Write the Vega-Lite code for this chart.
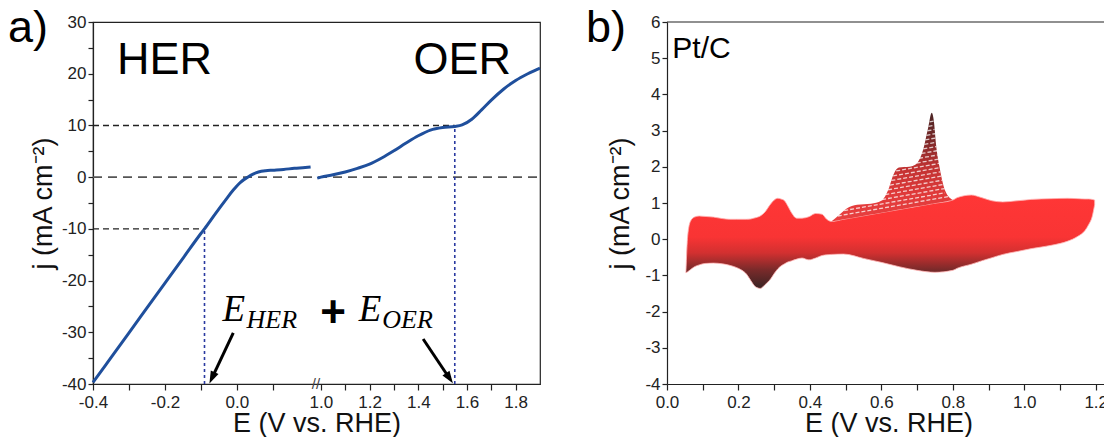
{
  "$schema": "https://vega.github.io/schema/vega-lite/v6.json",
  "background": "white",
  "padding": {"left": 7, "top": 5, "right": 0, "bottom": 0},
  "spacing": 39,
  "config": {
    "font": "Liberation Sans",
    "axis": {"grid": false, "domainColor": "#222", "domainWidth": 1.2, "tickColor": "#222", "tickWidth": 1.2, "tickSize": 5, "labelFont": "Liberation Sans", "labelFontSize": 17, "labelColor": "#222", "labelPadding": 2, "labelFlush": false, "labelOverlap": false, "titleFont": "Liberation Sans", "titleFontSize": 27, "titleFontWeight": "normal", "titleColor": "#111"},
    "axisY": {"titlePadding": 4},
    "axisX": {"titlePadding": 0, "tickSize": 6, "labelPadding": 4}
  },
  "hconcat": [
    {
      "width": 447,
      "height": 362,
      "view": {"stroke": "#222", "strokeWidth": 1.2},
      "title": {"text": "a)", "anchor": "start", "frame": "group", "fontSize": 45, "font": "Liberation Sans", "fontWeight": "normal", "color": "#000", "baseline": "top", "offset": -38, "dx": -85},
      "encoding": {
        "x": {"field": "x", "type": "quantitative",
          "scale": {"domain": [-0.4, 0.22, 0.98, 1.9], "range": [0, 223, 223, 447], "nice": false, "zero": false},
          "axis": {"title": "E (V vs. RHE)", "values": [-0.4, -0.3, -0.2, -0.1, 0, 0.1, 1, 1.1, 1.2, 1.3, 1.4, 1.5, 1.6, 1.7, 1.8], "labelExpr": "round(datum.value*10)%2==0 ? replace(format(datum.value,'.1f'),'−','-') : ''"}},
        "y": {"field": "y", "type": "quantitative",
          "scale": {"domain": [-40, 30], "nice": false, "zero": false},
          "axis": {"title": "j (mA cm⁻²)", "values": [-40, -35, -30, -25, -20, -15, -10, -5, 0, 5, 10, 15, 20, 25, 30], "labelExpr": "datum.value%10==0 ? replace(format(datum.value,'d'),'−','-') : ''"}}
      },
      "layer": [
        {
          "data": {"values": [{"x": -0.4, "y": 0}, {"x": 1.9, "y": 0}]},
          "mark": {"type": "line", "color": "#555", "strokeDash": [9, 6], "strokeWidth": 1.6},
          "encoding": {}
        },
        {
          "data": {"values": [{"x": -0.4, "y": 10, "id": "a"}, {"x": 1.55, "y": 10, "id": "a"}, {"x": -0.4, "y": -10, "id": "b"}, {"x": -0.09, "y": -10, "id": "b"}]},
          "mark": {"type": "line", "color": "#222", "strokeDash": [6, 4], "strokeWidth": 1.4},
          "encoding": {"detail": {"field": "id"}}
        },
        {
          "data": {"values": [{"x": -0.09, "y": -40, "id": "a"}, {"x": -0.09, "y": -10, "id": "a"}, {"x": 1.55, "y": -40, "id": "b"}, {"x": 1.55, "y": 10, "id": "b"}]},
          "mark": {"type": "line", "color": "#2a3aa0", "strokeDash": [3, 3], "strokeWidth": 1.6},
          "encoding": {"detail": {"field": "id"}}
        },
        {
          "data": {"values": [
            {"x": -0.4, "y": -39.7, "s": "her"}, {"x": -0.35, "y": -34.9, "s": "her"}, {"x": -0.3, "y": -30.1, "s": "her"}, {"x": -0.25, "y": -25.3, "s": "her"}, {"x": -0.2, "y": -20.5, "s": "her"}, {"x": -0.15, "y": -15.7, "s": "her"}, {"x": -0.1, "y": -10.9, "s": "her"}, {"x": -0.09, "y": -10.0, "s": "her"}, {"x": -0.06, "y": -7.1, "s": "her"}, {"x": -0.03, "y": -4.3, "s": "her"}, {"x": -0.01, "y": -2.5, "s": "her"}, {"x": 0.01, "y": -1.0, "s": "her"}, {"x": 0.03, "y": 0.0, "s": "her"}, {"x": 0.045, "y": 0.6, "s": "her"}, {"x": 0.06, "y": 1.0, "s": "her"}, {"x": 0.08, "y": 1.25, "s": "her"}, {"x": 0.1, "y": 1.35, "s": "her"}, {"x": 0.13, "y": 1.5, "s": "her"}, {"x": 0.16, "y": 1.7, "s": "her"}, {"x": 0.19, "y": 1.85, "s": "her"}, {"x": 0.205, "y": 1.95, "s": "her"},
            {"x": 0.985, "y": -0.2, "s": "oer"}, {"x": 1.0, "y": 0.0, "s": "oer"}, {"x": 1.05, "y": 0.45, "s": "oer"}, {"x": 1.1, "y": 1.0, "s": "oer"}, {"x": 1.15, "y": 1.7, "s": "oer"}, {"x": 1.2, "y": 2.5, "s": "oer"}, {"x": 1.25, "y": 3.7, "s": "oer"}, {"x": 1.3, "y": 5.1, "s": "oer"}, {"x": 1.35, "y": 6.6, "s": "oer"}, {"x": 1.4, "y": 8.0, "s": "oer"}, {"x": 1.45, "y": 9.1, "s": "oer"}, {"x": 1.5, "y": 9.6, "s": "oer"}, {"x": 1.55, "y": 9.8, "s": "oer"}, {"x": 1.58, "y": 10.1, "s": "oer"}, {"x": 1.62, "y": 11.2, "s": "oer"}, {"x": 1.66, "y": 13.0, "s": "oer"}, {"x": 1.7, "y": 14.9, "s": "oer"}, {"x": 1.75, "y": 17.0, "s": "oer"}, {"x": 1.8, "y": 18.7, "s": "oer"}, {"x": 1.85, "y": 20.0, "s": "oer"}, {"x": 1.9, "y": 21.1, "s": "oer"}
          ]},
          "mark": {"type": "line", "color": "#1f4f9c", "strokeWidth": 3, "interpolate": "monotone"},
          "encoding": {"detail": {"field": "s"}}
        },
        {
          "data": {"values": [{"x": -0.01, "y": -30.1, "id": "a"}, {"x": -0.068, "y": -38.65, "id": "a"}, {"x": 1.42, "y": -31.3, "id": "b"}, {"x": 1.526, "y": -38.74, "id": "b"}]},
          "mark": {"type": "line", "color": "#000", "strokeWidth": 3},
          "encoding": {"detail": {"field": "id"}}
        },
        {
          "data": {"values": [{"x": -0.068, "y": -38.65}]},
          "mark": {"type": "point", "shape": "M0,-1L0.6,0.75L-0.6,0.75Z", "filled": true, "color": "#000", "opacity": 1, "size": 200, "angle": 205}
        },
        {
          "data": {"values": [{"x": 1.526, "y": -38.74}]},
          "mark": {"type": "point", "shape": "M0,-1L0.6,0.75L-0.6,0.75Z", "filled": true, "color": "#000", "opacity": 1, "size": 200, "angle": 146}
        },
        {
          "data": {"values": [{"x": -0.333, "y": 20, "t": "HER"}, {"x": 1.38, "y": 20, "t": "OER"}]},
          "mark": {"type": "text", "font": "Liberation Sans", "fontSize": 45, "align": "left", "baseline": "alphabetic", "color": "#000"},
          "encoding": {"text": {"field": "t"}}
        },
        {
          "data": {"values": [{"x": -0.04, "y": -27.8, "t": "E"}, {"x": 1.156, "y": -27.8, "t": "E"}]},
          "mark": {"type": "text", "font": "Liberation Serif", "fontStyle": "italic", "fontSize": 37, "align": "left", "baseline": "alphabetic", "color": "#000"},
          "encoding": {"text": {"field": "t"}}
        },
        {
          "data": {"values": [{"x": 0.027, "y": -29.2, "t": "HER"}, {"x": 1.252, "y": -29.2, "t": "OER"}]},
          "mark": {"type": "text", "font": "Liberation Serif", "fontStyle": "italic", "fontSize": 26, "align": "left", "baseline": "alphabetic", "color": "#000"},
          "encoding": {"text": {"field": "t"}}
        },
        {
          "data": {"values": [{"x": 1.05, "y": -26.4, "t": "+"}]},
          "mark": {"type": "text", "font": "Liberation Sans", "fontWeight": "bold", "fontSize": 44, "align": "center", "baseline": "middle", "color": "#000"},
          "encoding": {"text": {"field": "t"}}
        },
        {
          "data": {"values": [{"x": 0.98, "y": -40, "t": "//"}]},
          "mark": {"type": "text", "font": "Liberation Sans", "fontSize": 15, "align": "center", "baseline": "middle", "color": "#444"},
          "encoding": {"text": {"field": "t"}}
        }
      ]
    },
    {
      "width": 443,
      "height": 362,
      "view": {"stroke": null},
      "title": {"text": "b)", "anchor": "start", "frame": "group", "fontSize": 45, "font": "Liberation Sans", "fontWeight": "normal", "color": "#000", "baseline": "top", "offset": -38, "dx": -81},
      "encoding": {
        "x": {"field": "x", "type": "quantitative",
          "scale": {"domain": [0, 1.24], "nice": false, "zero": false},
          "axis": {"title": "E (V vs. RHE)", "values": [0, 0.1, 0.2, 0.3, 0.4, 0.5, 0.6, 0.7, 0.8, 0.9, 1.0, 1.1, 1.2], "labelExpr": "round(datum.value*10)%2==0 ? replace(format(datum.value,'.1f'),'−','-') : ''"}},
        "y": {"field": "y", "type": "quantitative",
          "scale": {"domain": [-4, 6], "nice": false, "zero": false},
          "axis": {"title": "j (mA cm⁻²)", "titlePadding": 10, "values": [-4, -3, -2, -1, 0, 1, 2, 3, 4, 5, 6], "labelExpr": "replace(format(datum.value,'d'),'−','-')"}}
      },
      "layer": [
        {
          "data": {"values": [
            {"x": 0.053, "y": -0.90, "y2": -0.93}, {"x": 0.058, "y": 0.10, "y2": -0.90}, {"x": 0.066, "y": 0.50, "y2": -0.84}, {"x": 0.077, "y": 0.61, "y2": -0.76}, {"x": 0.09, "y": 0.64, "y2": -0.71}, {"x": 0.106, "y": 0.63, "y2": -0.67}, {"x": 0.13, "y": 0.61, "y2": -0.66}, {"x": 0.155, "y": 0.57, "y2": -0.68}, {"x": 0.175, "y": 0.55, "y2": -0.72}, {"x": 0.194, "y": 0.55, "y2": -0.78}, {"x": 0.21, "y": 0.55, "y2": -0.86}, {"x": 0.223, "y": 0.55, "y2": -0.97}, {"x": 0.235, "y": 0.56, "y2": -1.15}, {"x": 0.247, "y": 0.59, "y2": -1.31}, {"x": 0.261, "y": 0.64, "y2": -1.36}, {"x": 0.275, "y": 0.76, "y2": -1.25}, {"x": 0.29, "y": 0.97, "y2": -1.10}, {"x": 0.30, "y": 1.08, "y2": -0.95}, {"x": 0.31, "y": 1.13, "y2": -0.82}, {"x": 0.319, "y": 1.11, "y2": -0.74}, {"x": 0.329, "y": 1.06, "y2": -0.68}, {"x": 0.338, "y": 0.92, "y2": -0.63}, {"x": 0.348, "y": 0.74, "y2": -0.60}, {"x": 0.363, "y": 0.58, "y2": -0.55}, {"x": 0.378, "y": 0.58, "y2": -0.52}, {"x": 0.397, "y": 0.62, "y2": -0.57}, {"x": 0.416, "y": 0.71, "y2": -0.52}, {"x": 0.434, "y": 0.69, "y2": -0.45}, {"x": 0.447, "y": 0.55, "y2": -0.43}, {"x": 0.46, "y": 0.49, "y2": -0.42}, {"x": 0.494, "y": 0.549, "y2": -0.41}, {"x": 0.55, "y": 0.646, "y2": -0.53}, {"x": 0.60, "y": 0.733, "y2": -0.64}, {"x": 0.65, "y": 0.82, "y2": -0.76}, {"x": 0.70, "y": 0.906, "y2": -0.86}, {"x": 0.75, "y": 0.993, "y2": -0.915}, {"x": 0.80, "y": 1.08, "y2": -0.86}, {"x": 0.813, "y": 1.15, "y2": -0.80}, {"x": 0.852, "y": 1.22, "y2": -0.69}, {"x": 0.88, "y": 1.15, "y2": -0.60}, {"x": 0.91, "y": 1.06, "y2": -0.51}, {"x": 0.94, "y": 1.03, "y2": -0.42}, {"x": 0.98, "y": 1.06, "y2": -0.34}, {"x": 1.02, "y": 1.10, "y2": -0.26}, {"x": 1.075, "y": 1.12, "y2": -0.17}, {"x": 1.12, "y": 1.13, "y2": -0.06}, {"x": 1.15, "y": 1.12, "y2": 0.08}, {"x": 1.17, "y": 1.11, "y2": 0.24}, {"x": 1.18, "y": 1.11, "y2": 0.40}, {"x": 1.19, "y": 1.10, "y2": 0.62}, {"x": 1.197, "y": 1.08, "y2": 0.95}
          ]},
          "mark": {"type": "area", "interpolate": "monotone", "stroke": "#ffb0b0", "strokeWidth": 1, "strokeOpacity": 0.8,
            "fill": {"gradient": "linear", "x1": 0, "y1": 0, "x2": 0, "y2": 1, "stops": [{"offset": 0, "color": "#ff3636"}, {"offset": 0.45, "color": "#f93434"}, {"offset": 0.62, "color": "#d23030"}, {"offset": 0.8, "color": "#7a2a2a"}, {"offset": 1, "color": "#3a2323"}]}},
          "encoding": {"y2": {"field": "y2"}}
        },
        {
          "data": {"values": [
            {"x": 0.46, "y": 0.49, "y2": 0.49}, {"x": 0.484, "y": 0.69, "y2": 0.532}, {"x": 0.503, "y": 0.85, "y2": 0.565}, {"x": 0.532, "y": 0.95, "y2": 0.615}, {"x": 0.571, "y": 0.98, "y2": 0.683}, {"x": 0.60, "y": 1.06, "y2": 0.733}, {"x": 0.62, "y": 1.38, "y2": 0.768}, {"x": 0.634, "y": 1.79, "y2": 0.792}, {"x": 0.649, "y": 1.98, "y2": 0.818}, {"x": 0.678, "y": 2.00, "y2": 0.868}, {"x": 0.697, "y": 2.07, "y2": 0.901}, {"x": 0.716, "y": 2.44, "y2": 0.934}, {"x": 0.731, "y": 3.08, "y2": 0.96}, {"x": 0.741, "y": 3.49, "y2": 0.977}, {"x": 0.747, "y": 3.26, "y2": 0.988}, {"x": 0.753, "y": 2.62, "y2": 0.998}, {"x": 0.765, "y": 1.88, "y2": 1.019}, {"x": 0.779, "y": 1.33, "y2": 1.043}, {"x": 0.80, "y": 1.08, "y2": 1.08}
          ]},
          "mark": {"type": "area", "interpolate": "monotone",
            "fill": {"gradient": "linear", "x1": 0, "y1": 0, "x2": 0, "y2": 1, "stops": [{"offset": 0, "color": "#4a2525"}, {"offset": 0.25, "color": "#7a2828"}, {"offset": 0.5, "color": "#c03232"}, {"offset": 0.75, "color": "#e03a3a"}, {"offset": 1, "color": "#e84040"}]}},
          "encoding": {"y2": {"field": "y2"}}
        },
        {
          "data": {"values": [
            {"x": 0.478, "y": 0.641, "k": 1}, {"x": 0.791, "y": 1.184, "k": 1},
            {"x": 0.496, "y": 0.792, "k": 2}, {"x": 0.778, "y": 1.282, "k": 2},
            {"x": 0.602, "y": 1.096, "k": 3}, {"x": 0.777, "y": 1.40, "k": 3},
            {"x": 0.611, "y": 1.232, "k": 4}, {"x": 0.774, "y": 1.515, "k": 4},
            {"x": 0.619, "y": 1.366, "k": 5}, {"x": 0.771, "y": 1.63, "k": 5},
            {"x": 0.624, "y": 1.495, "k": 6}, {"x": 0.768, "y": 1.744, "k": 6},
            {"x": 0.628, "y": 1.622, "k": 7}, {"x": 0.765, "y": 1.859, "k": 7},
            {"x": 0.633, "y": 1.75, "k": 8}, {"x": 0.763, "y": 1.975, "k": 8},
            {"x": 0.6415, "y": 1.885, "k": 9}, {"x": 0.7615, "y": 2.093, "k": 9},
            {"x": 0.699, "y": 2.105, "k": 10}, {"x": 0.7596, "y": 2.209, "k": 10},
            {"x": 0.7056, "y": 2.236, "k": 11}, {"x": 0.7577, "y": 2.326, "k": 11},
            {"x": 0.7125, "y": 2.368, "k": 12}, {"x": 0.7558, "y": 2.443, "k": 12},
            {"x": 0.7175, "y": 2.497, "k": 13}, {"x": 0.754, "y": 2.56, "k": 13},
            {"x": 0.7204, "y": 2.621, "k": 14}, {"x": 0.7524, "y": 2.677, "k": 14},
            {"x": 0.7233, "y": 2.746, "k": 15}, {"x": 0.7513, "y": 2.795, "k": 15},
            {"x": 0.7262, "y": 2.871, "k": 16}, {"x": 0.7502, "y": 2.913, "k": 16},
            {"x": 0.7291, "y": 2.996, "k": 17}, {"x": 0.7491, "y": 3.031, "k": 17},
            {"x": 0.732, "y": 3.118, "k": 18}, {"x": 0.748, "y": 3.148, "k": 18},
            {"x": 0.7351, "y": 3.243, "k": 19}, {"x": 0.7468, "y": 3.265, "k": 19}
          ]},
          "mark": {"type": "line", "color": "#ffffff", "strokeWidth": 1.3, "strokeDash": [4, 2], "opacity": 0.75},
          "encoding": {"detail": {"field": "k"}}
        },
        {
          "data": {"values": [{"x": 0.015, "y": 5.0, "t": "Pt/C"}]},
          "mark": {"type": "text", "font": "Liberation Sans", "fontSize": 30, "align": "left", "baseline": "alphabetic", "color": "#000"},
          "encoding": {"text": {"field": "t"}}
        },
        {
          "data": {"values": [{"x": 0, "y": 6}, {"x": 1.24, "y": 6}]},
          "mark": {"type": "line", "color": "#222", "strokeWidth": 1.2},
          "encoding": {}
        }
      ]
    }
  ]
}
